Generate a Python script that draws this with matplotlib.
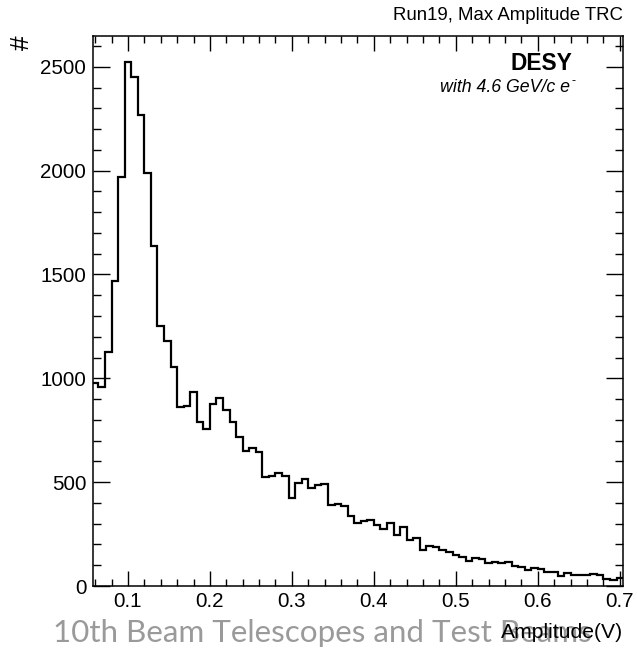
import matplotlib
matplotlib.use("Agg")
import matplotlib.pyplot as plt
import numpy as np
from matplotlib.ticker import MultipleLocator

plt.rcParams['font.family'] = ['Liberation Sans', 'DejaVu Sans']

# Histogram: bins of width 0.008 starting at 0.056
bin_start = 0.056
bin_width = 0.008
counts = [979, 958, 1128, 1470, 1969, 2524, 2449, 2268, 1987, 1638,
          1252, 1181, 1056, 863, 868, 935, 788, 755, 876, 903,
          847, 788, 719, 651, 663, 645, 526, 530, 543, 528,
          422, 497, 517, 473, 486, 491, 390, 394, 387, 339,
          304, 314, 318, 295, 275, 303, 246, 286, 220, 230,
          173, 194, 186, 173, 165, 149, 138, 122, 133, 128,
          112, 117, 109, 114, 96, 90, 77, 85, 82, 69,
          66, 48, 64, 53, 51, 51, 56, 51, 34, 29,
          40]
x_ticks = [0.1, 0.2, 0.3, 0.4, 0.5, 0.6, 0.7]
x_tick_labels = ["0.1", "0.2", "0.3", "0.4", "0.5", "0.6", "0.7"]
y_ticks = [0, 500, 1000, 1500, 2000, 2500]
y_tick_labels = ["0", "500", "1000", "1500", "2000", "2500"]

edges = bin_start + bin_width * np.arange(len(counts) + 1)

W, H = 637, 648
fig = plt.figure(figsize=(W / 100, H / 100), dpi=100)
ax = fig.add_axes([92.5 / W, 1 - 586 / H, (622.7 - 92.5) / W, (586 - 36) / H])

ax.stairs(counts, edges, baseline=None, color='black', linewidth=1.6)

ax.set_xlim(0.0568, 0.7035)
ax.set_ylim(0, 2648)

ax.set_xticks(x_ticks)
ax.set_xticklabels(x_tick_labels)
ax.set_yticks(y_ticks)
ax.set_yticklabels(y_tick_labels)
ax.xaxis.set_minor_locator(MultipleLocator(0.02))
ax.yaxis.set_minor_locator(MultipleLocator(100))

ax.tick_params(axis='both', which='both', direction='in', top=True, right=True,
               width=1.0, colors='black', labelsize=14.8)
ax.tick_params(axis='x', which='major', length=10.8, pad=4)
ax.tick_params(axis='x', which='minor', length=5)
ax.tick_params(axis='y', which='major', length=12, pad=4.5)
ax.tick_params(axis='y', which='minor', length=5.8)
for s in ax.spines.values():
    s.set_linewidth(1.1)

# Footer (slide overlay) drawn beneath the axis title
fig.text(53 / W, 1 - 633 / H, "10th Beam Telescopes and Test Beams",
         family=['Lato', 'DejaVu Sans'], fontsize=22.6, color='#9a9a9a',
         ha='left', va='center', zorder=1)

fig.text(622.7 / W, 1 - 633 / H, "Amplitude(V)", fontsize=15.2, color='black',
         ha='right', va='center', zorder=5)
fig.text(22 / W, 1 - 43 / H, "#", fontsize=19, rotation=90, color='black',
         ha='center', va='center')

fig.text(622.7 / W, 1 - 15 / H, "Run19, Max Amplitude TRC", fontsize=13.4,
         color='black', ha='right', va='center')

fig.text(572 / W, 1 - 64 / H, "DESY", fontsize=16.4,
         fontweight='bold', ha='right', va='center')
fig.text(570 / W, 1 - 87 / H, "with 4.6 GeV/c e",
         fontsize=12.8, fontstyle='italic', ha='right', va='center')
fig.text(571 / W, 1 - 81 / H, "-",
         fontsize=9, ha='left', va='center')

fig.savefig("out.png", dpi=100)
